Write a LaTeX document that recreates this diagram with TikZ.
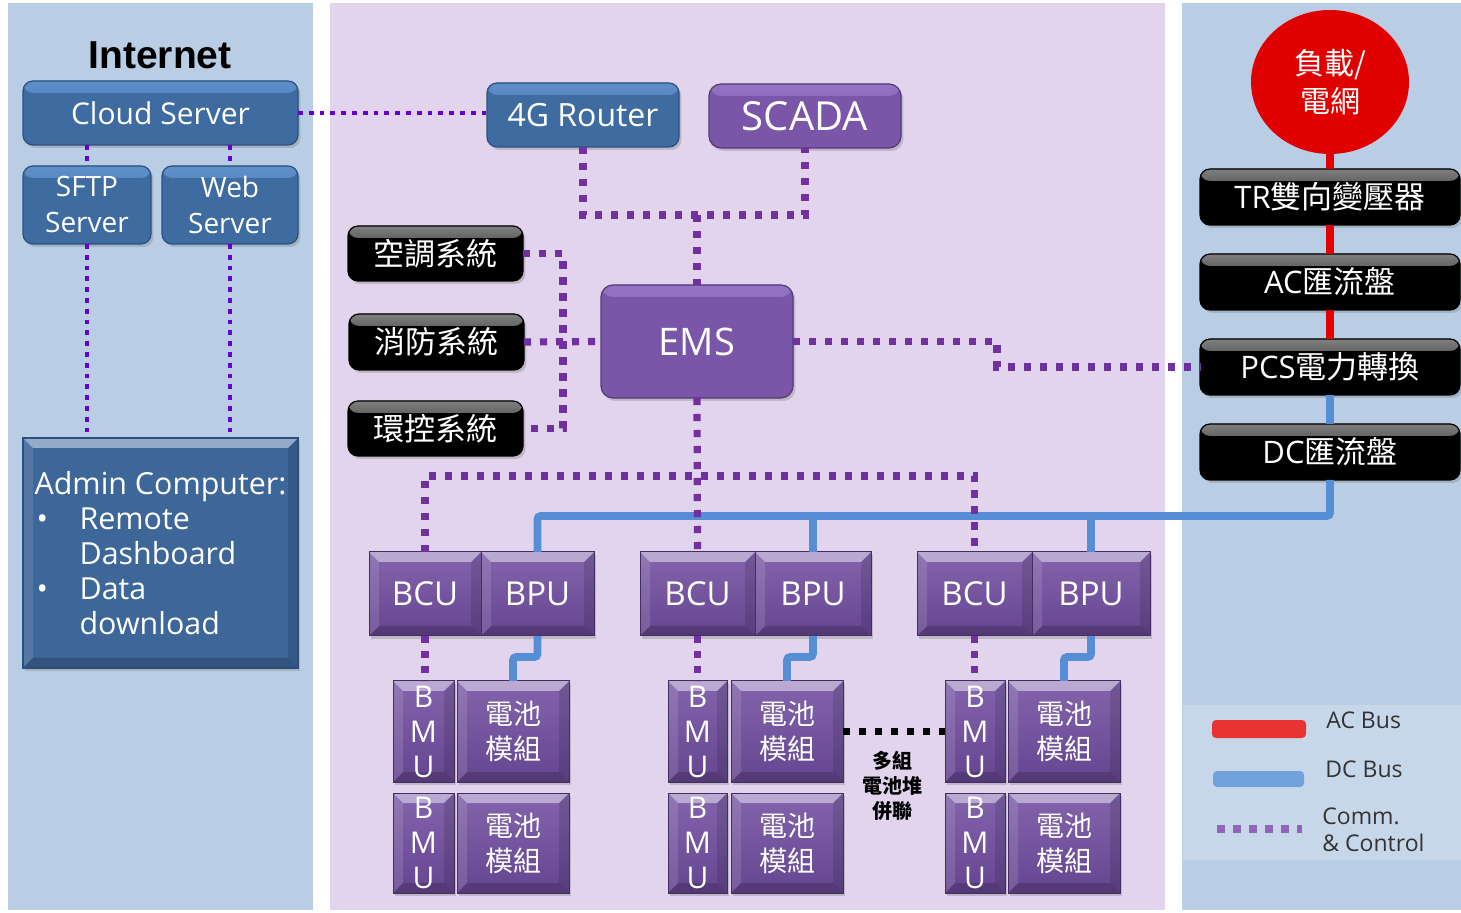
\documentclass[tikz,border=0pt]{standalone}
\usepackage{fontspec}
\setmainfont{Open Sans}
\newfontfamily\cjk{Noto Sans CJK TC}
\newfontfamily\arialf{Liberation Sans}
\usetikzlibrary{shadows,calc,shapes.geometric}
\definecolor{bgblue}{HTML}{B9CDE5}
\definecolor{bgpurp}{HTML}{E1D4EC}
\definecolor{legbg}{HTML}{C7D7EA}
\definecolor{nblue}{HTML}{3E6BA0}
\definecolor{nbluetop}{HTML}{5F8FCA}
\definecolor{nblueedge}{HTML}{2C507E}
\definecolor{npurp}{HTML}{7A56A8}
\definecolor{npurptop}{HTML}{9472C4}
\definecolor{npurpedge}{HTML}{553878}
\definecolor{bpurp}{HTML}{7553A3}
\definecolor{bpurpbot}{HTML}{654590}
\definecolor{admblue}{HTML}{3D6699}
\definecolor{commL}{HTML}{6600CC}
\definecolor{commM}{HTML}{7030A0}
\definecolor{acred}{HTML}{E00000}
\definecolor{dcblue}{HTML}{558ED5}
\definecolor{legred}{HTML}{E83333}
\definecolor{legblue}{HTML}{72A2DA}
\definecolor{legpurp}{HTML}{9461BD}
\definecolor{txtgray}{HTML}{333333}
\newcommand\fsz[2]{\fontsize{#1}{#2}\selectfont}
\newcommand\mkbox[7]{\node[#6, minimum width={(#4-#2)*0.5pt}, minimum height={(#5-#3)*0.5pt}] (#1) at ({(#2+#4)/2},{(#3+#5)/2}) {#7};}
\tikzset{
  shadowed/.style={drop shadow={shadow xshift=1.2pt, shadow yshift=-1.5pt, opacity=0.35}},
  gloss/.style 2 args={fill=#2, path picture={\shade[top color=#1, bottom color=#2] (path picture bounding box.north west) rectangle ([yshift=-6pt]path picture bounding box.north east);}},
  bevel/.style={path picture={
    \fill[white,opacity=0.45] (path picture bounding box.north west) -- (path picture bounding box.north east) -- ([shift={(-5pt,-5pt)}]path picture bounding box.north east) -- ([shift={(5pt,-5pt)}]path picture bounding box.north west) -- cycle;
    \fill[white,opacity=0.12] (path picture bounding box.north west) -- ([shift={(5pt,-5pt)}]path picture bounding box.north west) -- ([shift={(5pt,5pt)}]path picture bounding box.south west) -- (path picture bounding box.south west) -- cycle;
    \fill[black,opacity=0.12] (path picture bounding box.north east) -- ([shift={(-5pt,-5pt)}]path picture bounding box.north east) -- ([shift={(-5pt,5pt)}]path picture bounding box.south east) -- (path picture bounding box.south east) -- cycle;
    \fill[black,opacity=0.18] (path picture bounding box.south west) -- (path picture bounding box.south east) -- ([shift={(-5pt,5pt)}]path picture bounding box.south east) -- ([shift={(5pt,5pt)}]path picture bounding box.south west) -- cycle;}},
  basebox/.style={inner sep=0pt, outer sep=0pt, align=center, text=white, shadowed},
  bluebox/.style={basebox, rounded corners=5pt, draw=nblueedge, line width=0.6pt, gloss={nbluetop}{nblue}},
  purpbox/.style={basebox, rounded corners=6pt, draw=npurpedge, line width=0.6pt, gloss={npurptop}{npurp}},
  blackbox/.style={basebox, rounded corners=5pt, draw=black, line width=0.6pt, gloss={black!50}{black}},
  sqbox/.style={basebox, draw=npurpedge!80!black, line width=0.5pt, top color=bpurp!90!white, bottom color=bpurpbot, bevel},
  adminbox/.style={basebox, align=left, draw=nblueedge, line width=0.6pt, fill=admblue, bevel},
  gridnode/.style={ellipse, fill=acred, inner sep=0pt, text=white, align=center, minimum width=79pt, minimum height=72pt},
  dotL/.style={commL, line width=2.4pt, dash pattern=on 2.4pt off 3pt},
  dotM/.style={commM, line width=3.6pt, dash pattern=on 3.6pt off 4.4pt},
  dotK/.style={black, line width=3.5pt, dash pattern=on 3.5pt off 4.5pt},
  acbus/.style={acred, line width=3.6pt},
  dcbus/.style={dcblue, line width=3.8pt, rounded corners=1.5pt},
  legtext/.style={text=txtgray, anchor=west, align=left, inner sep=0pt, font=\fsz{11.5pt}{13.5pt}},
  cjkf/.style={font=\cjk\fsz{#1}{18pt}},
}
\begin{document}
\begin{tikzpicture}[x=0.5pt,y=-0.5pt]
\useasboundingbox (0,0) rectangle (1461,913);
% panels
\fill[white] (0,0) rectangle (1461,913);
\fill[bgblue] (8,3) rectangle (313,910);
\fill[bgpurp] (330,3) rectangle (1165,910);
\fill[bgblue] (1182,3) rectangle (1461,910);
\fill[legbg] (1183,705) rectangle (1461,860);

% left panel
\node[inner sep=0pt, font=\arialf\bfseries\fsz{19.5pt}{22pt}] (inet) at (160,55) {Internet};
\mkbox{cloud}{23}{81}{298}{145}{bluebox, font=\fsz{15pt}{18pt}}{Cloud Server}
\mkbox{sftp}{23}{166}{151}{244}{bluebox, font=\fsz{14pt}{18pt}}{SFTP\\Server}
\mkbox{web}{162}{166}{298}{244}{bluebox, font=\fsz{14pt}{18pt}}{Web\\Server}
\mkbox{admin}{23}{438}{298}{668}{adminbox, font=\fsz{15.2pt}{17.5pt}}{Admin Computer:\\\makebox[22.5pt][l]{\hspace*{1pt}\textbullet}Remote\\\hspace*{22.5pt}Dashboard\\\makebox[22.5pt][l]{\hspace*{1pt}\textbullet}Data\\\hspace*{22.5pt}download}

% middle panel
\mkbox{router}{487}{83}{679}{147}{bluebox, font=\fsz{16pt}{19pt}}{4G Router}
\mkbox{scada}{709}{84}{901}{148}{purpbox, font=\fsz{20pt}{24pt}}{SCADA}
\mkbox{ems}{601}{285}{793}{398}{purpbox, font=\fsz{19pt}{23pt}}{EMS}
\mkbox{aircon}{348}{226}{523}{281}{blackbox, cjkf=15.5pt}{空調系統}
\mkbox{fire}{349}{314}{524}{370}{blackbox, cjkf=15.5pt}{消防系統}
\mkbox{envc}{348}{401}{523}{456}{blackbox, cjkf=15.5pt}{環控系統}

% right panel
\node[gridnode, font=\cjk\fsz{15pt}{19pt}] (grid) at (1330,82) {負載/\\電網};
\mkbox{tr}{1200}{169}{1460}{225}{blackbox, font=\fsz{15.5pt}{18pt}}{TR{\cjk 雙向變壓器}}
\mkbox{acb}{1200}{254}{1460}{310}{blackbox, font=\fsz{15.5pt}{18pt}}{AC{\cjk 匯流盤}}
\mkbox{pcs}{1200}{339}{1460}{395}{blackbox, font=\fsz{15.5pt}{18pt}}{PCS{\cjk 電力轉換}}
\mkbox{dcb}{1200}{424}{1460}{480}{blackbox, font=\fsz{15.5pt}{18pt}}{DC{\cjk 匯流盤}}

% battery groups
\foreach \g/\xa/\xb/\xc/\ma/\mb/\mc in {1/369/481/594/393/454/457, 2/640/755/871/668/727/731, 3/917/1032/1150/945/1005/1008}{
  \mkbox{bcu\g}{\xa}{552}{\xb}{636}{sqbox, font=\fsz{16.5pt}{20pt}}{BCU}
  \mkbox{bpu\g}{\xb}{552}{\xc}{636}{sqbox, font=\fsz{16.5pt}{20pt}}{BPU}
  \mkbox{bmua\g}{\ma}{681}{\mb}{782}{sqbox, font=\fsz{15pt}{17.5pt}}{B\\M\\U}
  \mkbox{bmub\g}{\ma}{793}{\mb}{893}{sqbox, font=\fsz{15pt}{17.5pt}}{B\\M\\U}
  \mkbox{moda\g}{\mc}{681}{\mc+112}{782}{sqbox, font=\cjk\fsz{14pt}{17.5pt}}{電池\\模組}
  \mkbox{modb\g}{\mc}{793}{\mc+112}{893}{sqbox, font=\cjk\fsz{14pt}{17.5pt}}{電池\\模組}
}
\node[inner sep=0pt, align=center, font=\cjk\bfseries\fsz{10pt}{12.5pt}] (multi) at (892,786) {多組\\電池堆\\併聯};

% legend
\fill[legred, rounded corners=2pt] (1212,720) rectangle (1306,738);
\fill[legblue, rounded corners=2pt] (1213,771) rectangle (1304,787);
\draw[legpurp, line width=4pt, dash pattern=on 4pt off 4pt] (1217,829) -- (1302,829);
\node[legtext] (lac) at (1326,720) {AC Bus};
\node[legtext] (ldc) at (1325,769) {DC Bus};
\node[legtext] (lcomm) at (1322,830) {Comm.\\\& Control};

% AC / DC buses
\draw[acbus] (grid.south) -- (tr.north);
\draw[acbus] (tr.south) -- (acb.north);
\draw[acbus] (acb.south) -- (pcs.north);
\draw[dcbus] (pcs.south) -- (dcb.north);
\coordinate (dcy) at (1330,516);
\draw[dcbus] (dcb.south) |- (dcy -| bpu1.north) -- (bpu1.north);
\draw[dcbus] (bpu2.north) -- (bpu2.north |- dcy);
\draw[dcbus] (bpu3.north) -- (bpu3.north |- dcy);
\foreach \g in {1,2,3}{
  \draw[dcbus] (bpu\g.south) -- ++(0,21) -| (moda\g.north);
}

% comm lines, left panel
\draw[dotL] (cloud.east) -- (cloud.east -| router.west);
\draw[dotL] (cloud.south -| sftp.north) -- (sftp.north);
\draw[dotL] (cloud.south -| web.north) -- (web.north);
\draw[dotL] (sftp.south) -- (sftp.south |- admin.north);
\draw[dotL] (web.south) -- (web.south |- admin.north);

% comm lines, middle
\coordinate (jtop) at (697,215);
\draw[dotM] (router.south) |- (jtop) -| (scada.south);
\draw[dotM] (jtop) -- (ems.north);
\coordinate (xl) at (563,342);
\draw[dotM] (aircon.east) -| (xl) |- (envc.east);
\draw[dotM] (fire.east) -- (ems.west);
\coordinate (xe) at (997,355);
\draw[dotM] (ems.east) -| (xe) |- (pcs.west);
\coordinate (jb) at (697,476);
\draw[dotM] (bcu1.north) |- (jb) -| (bcu3.north);
\draw[dotM] (ems.south) -- (bcu2.north);
\foreach \g in {1,2,3}{
  \draw[dotM, dash pattern=on 3.7pt off 3.8pt] (bcu\g.south) -- (bcu\g.south |- bmua\g.north);
}
\draw[dotK] (moda2.east) -- (bmua3.west);
\end{tikzpicture}
\end{document}
